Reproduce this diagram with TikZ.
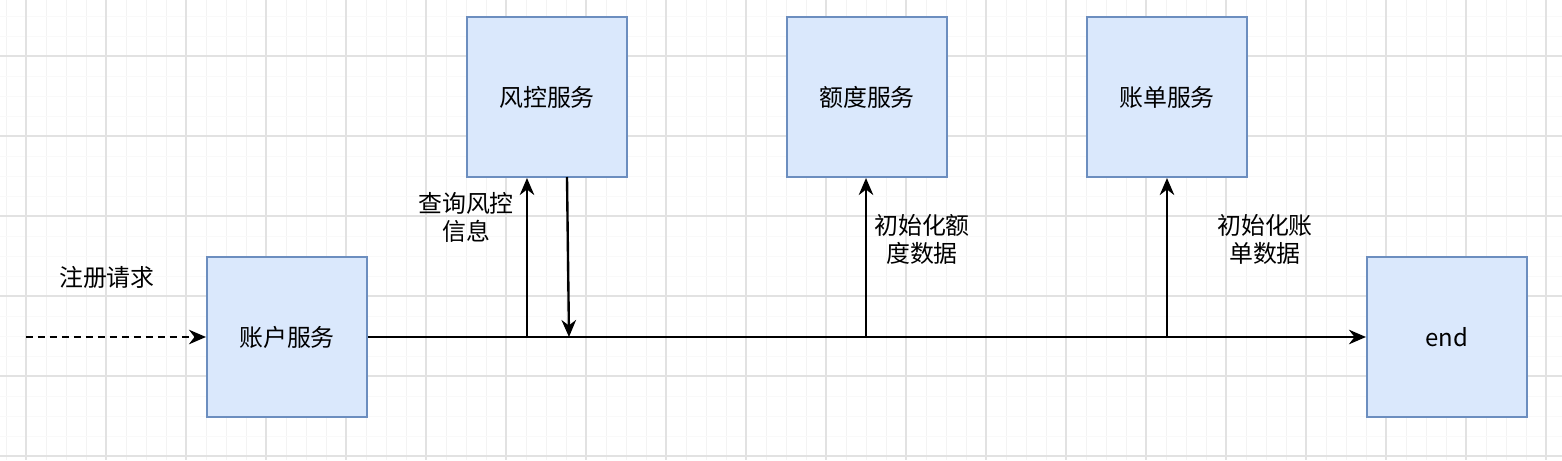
\documentclass[tikz,border=0pt]{standalone}
\usepackage{fontspec}
\setmainfont{Noto Sans CJK SC}
\usetikzlibrary{arrows.meta}
\definecolor{boxfill}{HTML}{DAE8FC}
\definecolor{boxdraw}{HTML}{6C8EBF}
\definecolor{gridmaj}{HTML}{E2E2E2}
\definecolor{gridmin}{HTML}{F3F3F3}
\definecolor{gridfaint}{HTML}{F9F9F9}
\tikzset{
  svc/.style={draw=boxdraw, fill=boxfill, line width=1.2pt, minimum size=3.2cm,
    inner sep=0pt, font=\fontsize{13.6}{16}\selectfont},
  flow/.style={line width=1.35pt, -{Stealth[length=0.34cm,width=0.29cm]}},
  lbl/.style={align=center, inner sep=0pt, font=\fontsize{13.6}{15.9}\selectfont}
}
\begin{document}
\begin{tikzpicture}[x=0.02cm, y=-0.02cm]
  \useasboundingbox (0,0) rectangle (1562,460);
  % grid
  \foreach \X in {6,26,...,1562} \draw[gridmin, line width=0.5pt] (\X,0) -- (\X,460);
  \foreach \Y in {16,36,...,460} \draw[gridfaint, line width=0.5pt] (0,\Y) -- (1562,\Y);
  \foreach \X in {26,106,...,1562} \draw[gridmaj, line width=0.6pt] (\X,0) -- (\X,460);
  \foreach \Y in {56,136,...,460} \draw[gridmaj, line width=0.6pt] (0,\Y) -- (1562,\Y);

  \node[svc] (acct) at (287,337) {账户服务};
  \node[svc] (risk) at (547,97) {风控服务};
  \node[svc] (quota) at (867,97) {额度服务};
  \node[svc] (bill) at (1167,97) {账单服务};
  \node[svc] (end) at (1447,337) {end};

  \coordinate (src) at (26,337);
  \coordinate (q1) at (527,337);
  \coordinate (r1) at (567,177);
  \coordinate (r2) at (569,337);
  \coordinate (q2) at (866,337);
  \coordinate (q3) at (1167,337);

  \draw[flow, dash pattern=on 0.14cm off 0.1cm] (src) -- (acct.west);
  \draw[flow] (acct.east) -- (end.west);
  \draw[flow] (q1) -- (q1 |- risk.south);
  \draw[flow] (r1) -- (r2);
  \draw[flow] (q2) -- (q2 |- quota.south);
  \draw[flow] (q3) -- (q3 |- bill.south);

  \node[lbl] (req) at (107,277) {注册请求};
  \node[lbl] (ask) at (466,217) {查询风控\\信息};
  \node[lbl] (initq) at (922,239) {初始化额\\度数据};
  \node[lbl] (initb) at (1265,239) {初始化账\\单数据};
\end{tikzpicture}
\end{document}
